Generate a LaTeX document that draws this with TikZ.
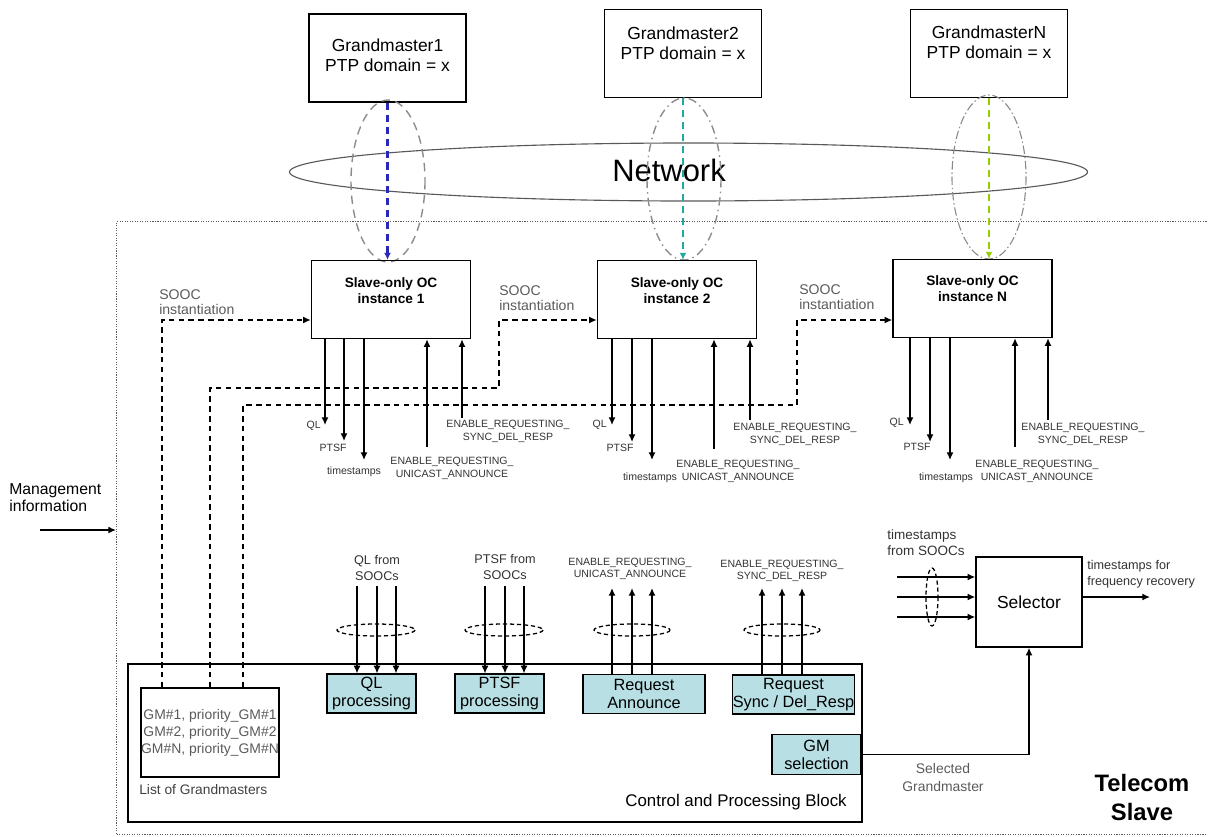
\documentclass[tikz,border=0pt]{standalone}
\usepackage{fontspec}
\setmainfont{Liberation Sans}
\usepackage{tikz}
\usepackage{xcolor}
\usetikzlibrary{positioning,arrows.meta}
\definecolor{procblue}{RGB}{183,223,228}
\definecolor{gmblue}{RGB}{40,40,185}
\definecolor{gmteal}{RGB}{30,170,160}
\definecolor{gmgreen}{RGB}{150,205,0}
\definecolor{txtgray}{RGB}{90,90,90}
\tikzstyle{gmbox} = [rectangle, minimum width=3.925cm, minimum height=2.2cm, draw=black, line width=1pt]
\tikzstyle{soocbox} = [rectangle, minimum width=3.975cm, minimum height=1.95cm, draw=black, line width=1pt]
\tikzstyle{procbox} = [rectangle, minimum width=2.225cm, minimum height=0.975cm, text centered, fill=procblue,
draw=black, line width=0.8pt, inner sep=0pt, align=center, font=\fontsize{11.6}{12.8}\selectfont]
\tikzstyle{gmtext} = [align=center, inner sep=0pt, font=\fontsize{12.4}{14.2}\selectfont]
\tikzstyle{sooctext} = [align=center, inner sep=0pt, font=\fontsize{9.7}{11.4}\selectfont\bfseries]
\tikzstyle{smlabel} = [align=center, inner sep=0pt, text=black!80, font=\fontsize{7.5}{9}\selectfont]
\tikzstyle{graylabel} = [align=left, inner sep=0pt, text=txtgray, font=\fontsize{10}{10.8}\selectfont]
\tikzstyle{midlabel} = [align=center, inner sep=0pt, text=black!80, font=\fontsize{9}{11.4}\selectfont]
\tikzstyle{arrow} = [line width=1pt, ->, >={Latex[length=5.5pt,width=5pt]}]
\tikzstyle{dasharrow} = [line width=1pt, ->, >={Latex[length=5.5pt,width=5pt]}, dash pattern=on 4pt off 3pt]
\tikzstyle{gmlink} = [line width=1.5pt, ->, >={Latex[length=5pt,width=5pt]}, dash pattern=on 5pt off 3.5pt]
\tikzstyle{bundle} = [line width=0.9pt, dash pattern=on 3pt off 2pt]

\begin{document}
\begin{tikzpicture}[x=0.025cm, y=-0.025cm]
    \useasboundingbox (0,0) rectangle (1208,836);

    % Grandmasters and network
    \node[gmbox] (gm1) at (387.5,58) {};
    \node[gmbox] (gm2) at (683,53.5) {};
    \node[gmbox] (gmN) at (989,53.5) {};
    \node[gmtext] (gm1txt) at (387.5,55) {Grandmaster1\\PTP domain = x};
    \node[gmtext] (gm2txt) at (683,43) {Grandmaster2\\PTP domain = x};
    \node[gmtext] (gmNtxt) at (989,42.5) {GrandmasterN\\PTP domain = x};

    \draw[line width=0.8pt, black!65] (688.5,172) ellipse [x radius=399, y radius=29];
    \node[inner sep=0pt, font=\fontsize{22}{24}\selectfont] (net) at (669,170) {Network};

    \draw[black!45, line width=1pt, dash pattern=on 6pt off 4pt] (388,181) ellipse [x radius=37, y radius=81];
    \draw[black!45, line width=1pt, dash pattern=on 6pt off 3pt on 1pt off 3pt] (684,179) ellipse [x radius=37, y radius=81];
    \draw[black!45, line width=0.8pt, dash pattern=on 6pt off 2pt on 1pt off 2pt] (989,177) ellipse [x radius=37, y radius=82];

    % Telecom Slave frame
    \node[draw=black!65, densely dotted, line width=0.8pt, minimum width=28.1cm, minimum height=15.325cm,
    anchor=north west, inner sep=0pt] (tslave) at (116,221) {};
    \node[align=center, inner sep=0pt, font=\fontsize{16.9}{20.6}\selectfont\bfseries] (tslavetxt) at (1142,797.5)
    {Telecom\\Slave};

    \node[anchor=west, align=left, inner sep=0pt, font=\fontsize{11.2}{12}\selectfont] (mgmt) at (9,498)
    {Management\\information};
    \coordinate (mgmtin) at (40,530);
    \draw[arrow] (mgmtin) -- (mgmtin -| tslave.west);

    % Slave-only OC instances
    \node[soocbox] (sooc1) at (391,299.5) {};
    \node[soocbox] (sooc2) at (677,299.5) {};
    \node[soocbox] (soocN) at (972.5,298.5) {};
    \node[sooctext] (sooc1txt) at (391,291) {Slave-only OC\\instance 1};
    \node[sooctext] (sooc2txt) at (677,291) {Slave-only OC\\instance 2};
    \node[sooctext] (soocNtxt) at (972.5,289) {Slave-only OC\\instance N};

    \draw[gmlink, gmblue] (gm1.south) -- (gm1.south |- sooc1.north);
    \draw[gmlink, gmteal] (gm2.south) -- (gm2.south |- sooc2.north);
    \draw[gmlink, gmgreen] (gmN.south) -- (gmN.south |- soocN.north);

    % Outputs and inputs of instance 1
    \coordinate (ql1) at (325,425);
    \coordinate (ptsf1) at (344,441);
    \coordinate (ts1) at (364,460);
    \coordinate (ua1) at (427,447);
    \coordinate (sd1) at (462,418);
    \draw[arrow] (sooc1.south -| ql1) -- (ql1);
    \draw[arrow] (sooc1.south -| ptsf1) -- (ptsf1);
    \draw[arrow] (sooc1.south -| ts1) -- (ts1);
    \draw[arrow] (ua1) -- (ua1 |- sooc1.south);
    \draw[arrow] (sd1) -- (sd1 |- sooc1.south);
    \node[smlabel, anchor=east] (ql1txt) at (321,426) {QL};
    \node[smlabel] (ptsf1txt) at (333,448) {PTSF};
    \node[smlabel] (ts1txt) at (354,472) {timestamps};
    \node[smlabel] (ua1txt) at (452,468.5) {ENABLE\_REQUESTING\_\\UNICAST\_ANNOUNCE};
    \node[smlabel] (sd1txt) at (508,431.5) {ENABLE\_REQUESTING\_\\SYNC\_DEL\_RESP};

    % Outputs and inputs of instance 2
    \coordinate (ql2) at (612,425);
    \coordinate (ptsf2) at (632,442);
    \coordinate (ts2) at (652,460);
    \coordinate (ua2) at (714,449);
    \coordinate (sd2) at (750,420);
    \draw[arrow] (sooc2.south -| ql2) -- (ql2);
    \draw[arrow] (sooc2.south -| ptsf2) -- (ptsf2);
    \draw[arrow] (sooc2.south -| ts2) -- (ts2);
    \draw[arrow] (ua2) -- (ua2 |- sooc2.south);
    \draw[arrow] (sd2) -- (sd2 |- sooc2.south);
    \node[smlabel, anchor=east] (ql2txt) at (607,425) {QL};
    \node[smlabel] (ptsf2txt) at (620,448) {PTSF};
    \node[smlabel] (ts2txt) at (650,478) {timestamps};
    \node[smlabel] (ua2txt) at (738,471.5) {ENABLE\_REQUESTING\_\\UNICAST\_ANNOUNCE};
    \node[smlabel] (sd2txt) at (795,434.5) {ENABLE\_REQUESTING\_\\SYNC\_DEL\_RESP};

    % Outputs and inputs of instance N
    \coordinate (qlN) at (910,425);
    \coordinate (ptsfN) at (930,442);
    \coordinate (tsN) at (950,460);
    \coordinate (uaN) at (1015,447);
    \coordinate (sdN) at (1048,420);
    \draw[arrow] (soocN.south -| qlN) -- (qlN);
    \draw[arrow] (soocN.south -| ptsfN) -- (ptsfN);
    \draw[arrow] (soocN.south -| tsN) -- (tsN);
    \draw[arrow] (uaN) -- (uaN |- soocN.south);
    \draw[arrow] (sdN) -- (sdN |- soocN.south);
    \node[smlabel, anchor=east] (qlNtxt) at (904,423) {QL};
    \node[smlabel] (ptsfNtxt) at (917,447) {PTSF};
    \node[smlabel] (tsNtxt) at (946,478) {timestamps};
    \node[smlabel] (uaNtxt) at (1037,471.5) {ENABLE\_REQUESTING\_\\UNICAST\_ANNOUNCE};
    \node[smlabel] (sdNtxt) at (1083,434.5) {ENABLE\_REQUESTING\_\\SYNC\_DEL\_RESP};

    % Control and Processing Block
    \node[draw=black, line width=1pt, minimum width=18.35cm, minimum height=3.95cm, inner sep=0pt] (cpb) at (495,743) {};
    \node[anchor=east, inner sep=0pt, font=\fontsize{12}{13}\selectfont] (cpbtxt) at (847,802) {Control and Processing Block};

    \node[draw=black, line width=1pt, minimum width=3.45cm, minimum height=2.225cm, inner sep=0pt] (gmlist) at (210,732.5) {};
    \node[align=center, inner sep=0pt, text=txtgray, font=\fontsize{9.9}{12.1}\selectfont] (gmlisttxt) at (210,733)
    {GM\#1, priority\_GM\#1\\GM\#2, priority\_GM\#2\\GM\#N, priority\_GM\#N};
    \node[anchor=west, inner sep=0pt, text=black!75, font=\fontsize{9.8}{11}\selectfont] (gmlistlbl) at (139,790) {List of Grandmasters};

    \node[procbox] (qlp) at (371.5,693.5) {QL\\processing};
    \node[procbox] (ptsfp) at (499.5,693.5) {PTSF\\processing};
    \node[procbox, minimum width=3.05cm] (reqann) at (644,694) {Request\\Announce};
    \node[procbox, minimum width=3.03cm] (reqsync) at (793.5,694.5) {Request\\Sync / Del\_Resp};
    \node[procbox, minimum height=1cm] (gmsel) at (816.5,754.5) {GM\\selection};

    % SOOC instantiation
    \coordinate (inst1) at (162,320);
    \coordinate (inst2) at (210,388);
    \coordinate (inst2up) at (499,320);
    \coordinate (inst3) at (243,405);
    \coordinate (inst3up) at (797,320);
    \draw[dasharrow] (gmlist.north -| inst1) -- (inst1) -- (inst1 -| sooc1.west);
    \draw[dasharrow] (gmlist.north -| inst2) -- (inst2) -| (inst2up) -- (inst2up -| sooc2.west);
    \draw[dasharrow] (gmlist.north -| inst3) -- (inst3) -| (inst3up) -- (inst3up -| soocN.west);
    \node[graylabel, anchor=south west] (inst1txt) at (159,315) {SOOC\\instantiation};
    \node[graylabel, anchor=south west] (inst2txt) at (499,311) {SOOC\\instantiation};
    \node[graylabel, anchor=south west] (inst3txt) at (799,310) {SOOC\\instantiation};

    % Bundles into and out of the block
    \coordinate (qla) at (357,586);
    \coordinate (qlb) at (377,586);
    \coordinate (qlc) at (396,586);
    \draw[arrow] (qla) -- (qla |- qlp.north);
    \draw[arrow] (qlb) -- (qlb |- qlp.north);
    \draw[arrow] (qlc) -- (qlc |- qlp.north);
    \draw[bundle] (376,630) ellipse [x radius=39, y radius=6];
    \node[midlabel] (qlin) at (377,568) {QL from\\SOOCs};

    \coordinate (ptsfa) at (485,586);
    \coordinate (ptsfb) at (505,586);
    \coordinate (ptsfc) at (524,586);
    \draw[arrow] (ptsfa) -- (ptsfa |- ptsfp.north);
    \draw[arrow] (ptsfb) -- (ptsfb |- ptsfp.north);
    \draw[arrow] (ptsfc) -- (ptsfc |- ptsfp.north);
    \draw[bundle] (504,630) ellipse [x radius=39, y radius=6];
    \node[midlabel] (ptsfin) at (505,567) {PTSF from\\SOOCs};

    \coordinate (uaa) at (612,588);
    \coordinate (uab) at (632,588);
    \coordinate (uac) at (652,588);
    \draw[arrow] (reqann.north -| uaa) -- (uaa);
    \draw[arrow] (reqann.north -| uab) -- (uab);
    \draw[arrow] (reqann.north -| uac) -- (uac);
    \draw[bundle] (632,630) ellipse [x radius=38, y radius=6];
    \node[smlabel, font=\fontsize{7.5}{8.4}\selectfont] (uaout) at (630,569) {ENABLE\_REQUESTING\_\\UNICAST\_ANNOUNCE};

    \coordinate (sda) at (762,588);
    \coordinate (sdb) at (782,588);
    \coordinate (sdc) at (802,588);
    \draw[arrow] (reqsync.north -| sda) -- (sda);
    \draw[arrow] (reqsync.north -| sdb) -- (sdb);
    \draw[arrow] (reqsync.north -| sdc) -- (sdc);
    \draw[bundle] (782,630) ellipse [x radius=38, y radius=6];
    \node[smlabel, font=\fontsize{7.5}{8.4}\selectfont] (sdout) at (782,571) {ENABLE\_REQUESTING\_\\SYNC\_DEL\_RESP};

    % Selector
    \node[draw=black, line width=1pt, minimum width=2.65cm, minimum height=2.25cm, inner sep=0pt,
    font=\fontsize{12.4}{13}\selectfont] (selector) at (1029,602) {Selector};
    \coordinate (tsa) at (897,577);
    \coordinate (tsb) at (897,597);
    \coordinate (tsc) at (897,617);
    \coordinate (freq) at (1150,597);
    \draw[arrow] (tsa) -- (tsa -| selector.west);
    \draw[arrow] (tsb) -- (tsb -| selector.west);
    \draw[arrow] (tsc) -- (tsc -| selector.west);
    \draw[bundle] (932,597) ellipse [x radius=6, y radius=29];
    \node[midlabel, anchor=west, align=left, font=\fontsize{9.6}{11.4}\selectfont] (tsin) at (887,543) {timestamps\\from SOOCs};
    \draw[arrow] (selector.east |- freq) -- (freq);
    \node[midlabel, anchor=west, align=left] (freqtxt) at (1087,574) {timestamps for\\frequency recovery};

    \draw[arrow] (gmsel.east) -| (selector.south);
    \node[align=center, inner sep=0pt, text=txtgray, font=\fontsize{9.9}{12.8}\selectfont] (selgm) at (943,778)
    {Selected\\Grandmaster};

\end{tikzpicture}
\end{document}
